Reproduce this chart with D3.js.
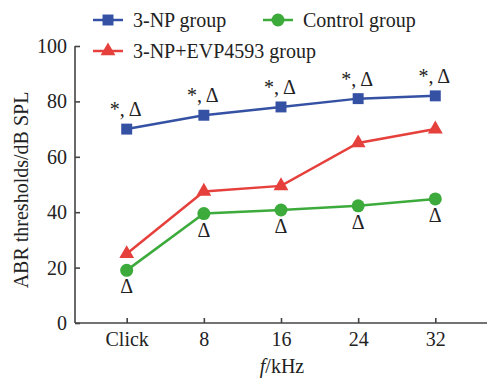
<!DOCTYPE html>
<html><head><meta charset="utf-8">
<script src="https://cdn.jsdelivr.net/npm/d3@7"></script>
<style>body{margin:0;background:#fff}svg{display:block}text{font-family:"Liberation Serif","Times New Roman",serif;fill:#222}</style>
</head><body><svg id="c" width="487" height="381"></svg>
<script>
const categories = ["Click", "8", "16", "24", "32"];
const np3 = [70, 75, 78, 81, 82];
const control = [19, 39.5, 40.8, 42.3, 44.8];
const npEvp = [25, 47.5, 49.5, 65, 70];
const yTicks = [0, 20, 40, 60, 80, 100];
const seriesNames = ["3-NP group", "Control group", "3-NP+EVP4593 group"];
const colors = ["#3551a4", "#3cab3c", "#e6403c"];

const svg = d3.select("#c");
const x = d3.scalePoint().domain(categories).range([75, 487]).padding(0.67);
const y = d3.scaleLinear().domain([0, 100]).range([323, 46]);
const fs = 20;

// axes
const yAxis = svg.append("g").attr("transform", "translate(75,0)")
  .call(d3.axisLeft(y).tickValues(yTicks).tickSizeInner(-5).tickSizeOuter(0).tickPadding(8));
const xAxis = svg.append("g").attr("transform", "translate(0,323)")
  .call(d3.axisBottom(x).tickSizeInner(-5).tickSizeOuter(0).tickPadding(9));
[yAxis, xAxis].forEach(g => {
  g.selectAll("path,line").attr("stroke", "#444").attr("stroke-width", 1.6);
  g.selectAll("text").attr("font-size", fs).attr("font-family", "Liberation Serif, serif").attr("fill", "#222");
});
xAxis.select("path.domain").attr("d", "M75,0H487");
yAxis.select("path.domain").attr("d", "M0,323V46");
xAxis.selectAll("text").attr("dy", "0.71em");

// axis titles
svg.append("text").attr("transform", "translate(28,190) rotate(-90)")
  .attr("text-anchor", "middle").attr("font-size", fs).text("ABR thresholds/dB SPL");
const xt = svg.append("text").attr("x", 282).attr("y", 373).attr("text-anchor", "middle").attr("font-size", fs);
xt.append("tspan").attr("font-style", "italic").text("f");
xt.append("tspan").text("/kHz");

const series = [np3, control, npEvp];
const line = d3.line().x((d, i) => x(categories[i])).y(d => y(d));
const tri = d3.symbol().type(d3.symbolTriangle).size(95);
const sq = d3.symbol().type(d3.symbolSquare).size(120);

function marker(g, k, cx, cy) {
  if (k === 0) g.append("path").attr("d", sq()).attr("transform", `translate(${cx},${cy})`).attr("fill", colors[0]);
  else if (k === 1) g.append("circle").attr("cx", cx).attr("cy", cy).attr("r", 6.5).attr("fill", colors[1]);
  else g.append("path").attr("d", tri()).attr("transform", `translate(${cx},${cy})`).attr("fill", colors[2]);
}

series.forEach((vals, k) => {
  const g = svg.append("g");
  g.append("path").datum(vals).attr("d", line).attr("fill", "none").attr("stroke", colors[k]).attr("stroke-width", 2.5);
  vals.forEach((v, i) => marker(g, k, x(categories[i]), y(v)));
});

// annotations
np3.forEach((v, i) => {
  svg.append("text").attr("x", x(categories[i]) - 1).attr("y", y(v) - 13).attr("text-anchor", "middle").attr("font-size", fs).text("*, Δ");
});
control.forEach((v, i) => {
  svg.append("text").attr("x", x(categories[i])).attr("y", y(v) + 23).attr("text-anchor", "middle").attr("font-size", fs).text("Δ");
});

// legend
const legendPos = [[93, 20], [263, 20], [93, 51]];
seriesNames.forEach((name, k) => {
  const [lx, ly] = legendPos[k];
  const g = svg.append("g");
  g.append("line").attr("x1", lx).attr("x2", lx + 30).attr("y1", ly).attr("y2", ly).attr("stroke", colors[k]).attr("stroke-width", 2.5);
  marker(g, k, lx + 15, ly);
  g.append("text").attr("x", lx + 40).attr("y", ly).attr("dy", "0.35em").attr("font-size", fs).text(name);
});
</script></body></html>
